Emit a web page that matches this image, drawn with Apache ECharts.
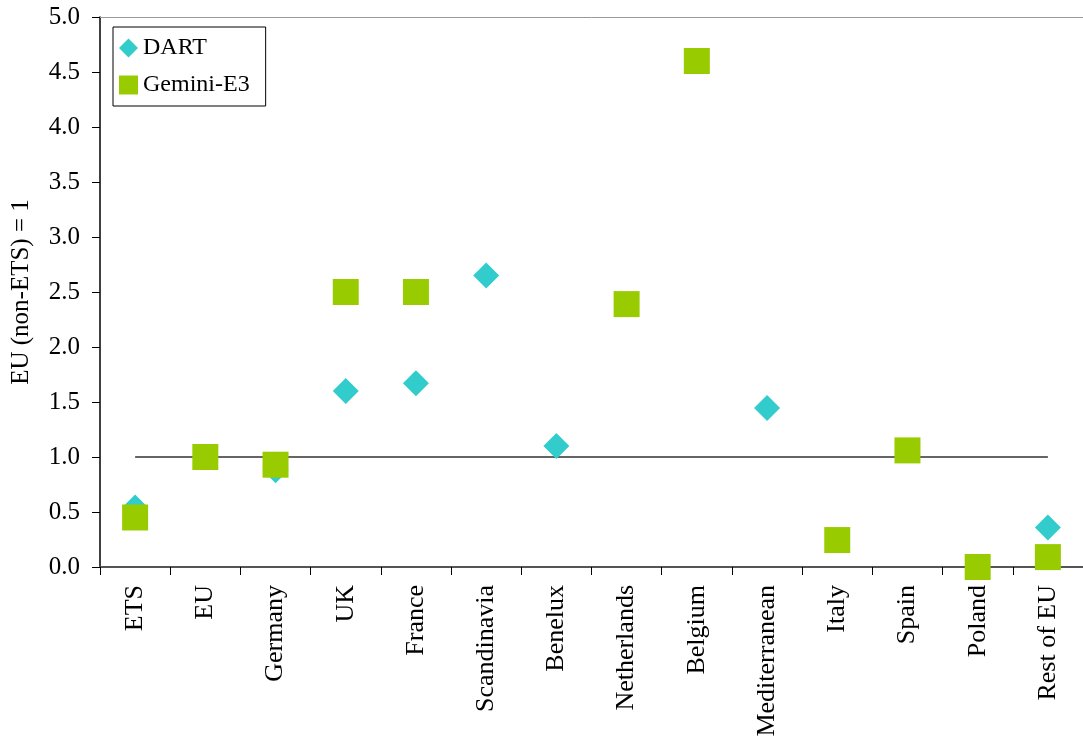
<!DOCTYPE html>
<html><head><meta charset="utf-8">
<script src="https://cdn.jsdelivr.net/npm/echarts@6/dist/echarts.min.js"></script>
<style>html,body{margin:0;padding:0;background:#fff}#c{width:1083px;height:746px}</style>
</head><body><div id="c"></div>
<script>
const categories = ['ETS','EU','Germany','UK','France','Scandinavia','Benelux','Netherlands','Belgium','Mediterranean','Italy','Spain','Poland','Rest of EU'];
const dartValues = [0.54, 1.0, 0.88, 1.6, 1.67, 2.65, 1.1, null, null, 1.445, null, null, null, 0.36];
const geminiValues = [0.45, 1.0, 0.93, 2.5, 2.5, null, null, 2.39, 4.6, null, 0.245, 1.06, 0.0, 0.09];
const referenceLine = [1,1,1,1,1,1,1,1,1,1,1,1,1,1];
const yTicks = {min: 0, max: 5, interval: 0.5};

const font = 'Liberation Serif';
const chart = echarts.init(document.getElementById('c'));
chart.setOption({
  animation: false,
  textStyle: {fontFamily: font},
  grid: {left: 100, right: -11, top: 17, bottom: 179, containLabel: false},
  legend: {
    left: 113, top: 27, orient: 'vertical',
    borderColor: '#000', borderWidth: 1, backgroundColor: '#fff',
    padding: [9, 16, 9, 6], itemGap: 13, itemWidth: 19, itemHeight: 19,
    textStyle: {fontFamily: font, fontSize: 24, color: '#000'},
    data: [{name: 'DART', icon: 'diamond'}, {name: 'Gemini-E3', icon: 'rect'}]
  },
  xAxis: [{
    type: 'category', data: categories, boundaryGap: true,
    axisLine: {lineStyle: {color: '#555', width: 2}},
    axisTick: {show: true, length: 8, lineStyle: {color: '#000', width: 1}},
    axisLabel: {rotate: 90, fontFamily: font, fontSize: 26, color: '#000', margin: 18, interval: 0}
  }, {
    type: 'category', data: categories, position: 'top',
    axisLine: {show: true, lineStyle: {color: '#999', width: 1}},
    axisTick: {show: false}, axisLabel: {show: false}
  }],
  yAxis: {
    type: 'value', min: yTicks.min, max: yTicks.max, interval: yTicks.interval,
    name: 'EU (non-ETS) = 1', nameLocation: 'middle', nameGap: 66, nameRotate: 90,
    nameTextStyle: {fontFamily: font, fontSize: 25, color: '#000'},
    axisLine: {show: true, lineStyle: {color: '#000', width: 1.5}},
    axisTick: {show: true, length: 8, lineStyle: {color: '#000'}},
    splitLine: {show: false},
    axisLabel: {fontFamily: font, fontSize: 25, color: '#000', margin: 20,
      formatter: v => v.toFixed(1)}
  },
  series: [{
    name: 'ref', type: 'line', data: referenceLine, symbol: 'none',
    lineStyle: {color: '#333', width: 1.5}, silent: true, z: 1
  }, {
    name: 'DART', type: 'scatter', data: dartValues, symbol: 'diamond', symbolSize: 26,
    itemStyle: {color: '#33CCCC', opacity: 1}, z: 2
  }, {
    name: 'Gemini-E3', type: 'scatter', data: geminiValues, symbol: 'rect', symbolSize: 26,
    itemStyle: {color: '#99CC00', opacity: 1}, z: 3
  }]
});
</script></body></html>
